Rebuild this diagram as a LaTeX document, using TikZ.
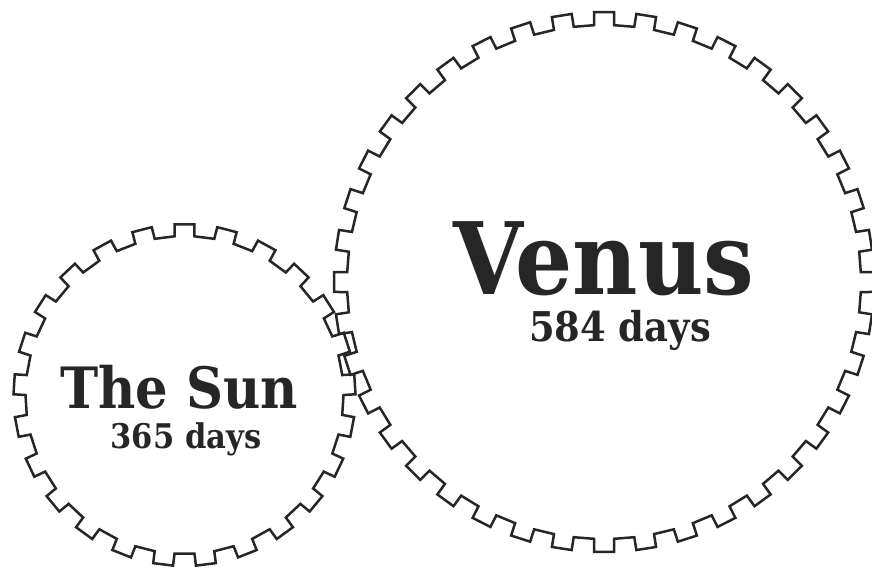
\documentclass[tikz,border=0pt]{standalone}
\usepackage{fontspec}
\setmainfont{DejaVu Serif}[FakeStretch=0.9]

% #1 centre, #2 teeth, #3 root radius, #4 tip radius, #5 half tooth width, #6 first tooth angle
\newcommand{\drawgear}[6]{%
  \begin{scope}[shift={#1}]
    \pgfmathsetmacro{\pitch}{360/#2}
    \pgfmathsetmacro{\ain}{asin(#5/#3)}
    \pgfmathsetmacro{\aout}{asin(#5/#4)}
    \draw[gearline] ({#6-\ain}:#3)
      \foreach \k in {1,...,#2}{
        -- ({#6+(\k-1)*\pitch-\ain}:#3) -- ({#6+(\k-1)*\pitch-\aout}:#4)
        -- ({#6+(\k-1)*\pitch+\aout}:#4) -- ({#6+(\k-1)*\pitch+\ain}:#3)
      } -- cycle;
  \end{scope}}

\begin{document}
\begin{tikzpicture}[
  x=1pt, y=-1pt,
  gearline/.style={draw=black!85, line width=2.5pt, line join=miter},
  title/.style={font=\bfseries\fontsize{#1}{#1}\selectfont, text=black!85, anchor=base, inner sep=0pt, text depth=0pt},
  days/.style={font=\bfseries\fontsize{#1}{#1}\selectfont, text=black!85, anchor=base, inner sep=0pt}
]
  \useasboundingbox (0,0) rectangle (872,571);
  \clip (0,0) rectangle (872,571);

  % the two gears
  \drawgear{(184.5,395)}{25}{159}{171}{10}{270}
  \drawgear{(604,282)}{40}{257}{270}{10}{270}

  % labels
  \node[title=57] (sun) at (179,408) {The Sun};
  \node[days=34] (sundays) at (186,448) {365 days};
  \node[title=100] (venus) at (604,294) {Venus};
  \node[days=41] (venusdays) at (620,341) {584 days};
\end{tikzpicture}
\end{document}
